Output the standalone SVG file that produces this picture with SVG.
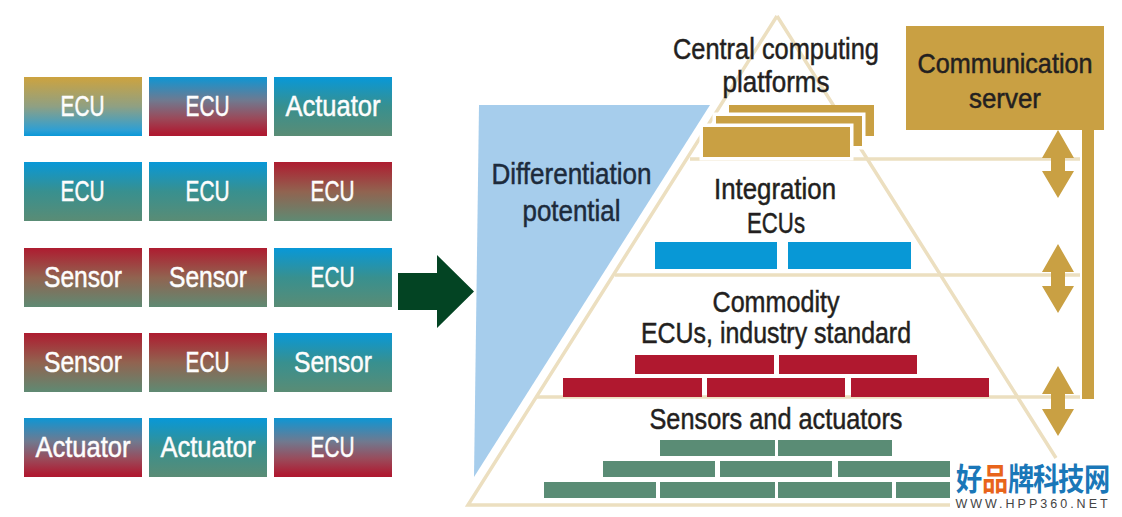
<svg xmlns="http://www.w3.org/2000/svg" width="1122" height="517" viewBox="0 0 1122 517">
<style>
text{font-family:"Liberation Sans",Arial,sans-serif;text-anchor:middle;font-size:30px;stroke-width:.5px}
.w{fill:#fdfdfd;stroke:#fdfdfd}.k{fill:#231f20;stroke:#231f20}.n{fill:#1d2b3c;stroke:#1d2b3c}.g{fill:#c9a043}.b{fill:#0898d6}.r{fill:#b0182f}.t{fill:#5a8c75}
.l{stroke:#ecdfc0;stroke-width:3.5;fill:none}
.h{stroke:#fff;stroke-width:7;paint-order:stroke}
.c{font-family:"Noto Sans CJK SC","Noto Sans CJK JP",sans-serif;font-size:25px;font-weight:700;fill:#1a77b8}
</style>
<defs>
<linearGradient id="gb" x1="0" y1="0" x2="0" y2="1"><stop offset="0" stop-color="#cda33f"/><stop offset=".5" stop-color="#8fa083"/><stop offset=".9" stop-color="#2f9fd3"/><stop offset="1" stop-color="#0a98d8"/></linearGradient>
<linearGradient id="br" x1="0" y1="0" x2="0" y2="1"><stop offset="0" stop-color="#0e96d4"/><stop offset=".4" stop-color="#70798f"/><stop offset=".7" stop-color="#9a4a5a"/><stop offset=".95" stop-color="#ae1c33"/><stop offset="1" stop-color="#ae1830"/></linearGradient>
<linearGradient id="bt" x1="0" y1="0" x2="0" y2="1"><stop offset="0" stop-color="#0898d8"/><stop offset=".5" stop-color="#38908f"/><stop offset="1" stop-color="#5a8c75"/></linearGradient>
<linearGradient id="rt" x1="0" y1="0" x2="0" y2="1"><stop offset="0" stop-color="#ae1c30"/><stop offset=".5" stop-color="#916350"/><stop offset="1" stop-color="#5f8a73"/></linearGradient>
</defs>
<rect width="1122" height="517" fill="#fff"/>
<g id="grid">
<g id="n11"><rect x="24" y="77" width="118" height="59" fill="url(#gb)"/><text class="w" x="82.500" y="116" textLength="44" lengthAdjust="spacingAndGlyphs">ECU</text></g>
<g id="n12"><rect x="149" y="77" width="118" height="59" fill="url(#br)"/><text class="w" x="207.500" y="116" textLength="44" lengthAdjust="spacingAndGlyphs">ECU</text></g>
<g id="n13"><rect x="274" y="77" width="118" height="59" fill="url(#bt)"/><text class="w" x="333" y="116" textLength="95" lengthAdjust="spacingAndGlyphs">Actuator</text></g>
<g id="n21"><rect x="24" y="162" width="118" height="59" fill="url(#bt)"/><text class="w" x="82.500" y="201" textLength="44" lengthAdjust="spacingAndGlyphs">ECU</text></g>
<g id="n22"><rect x="149" y="162" width="118" height="59" fill="url(#bt)"/><text class="w" x="207.500" y="201" textLength="44" lengthAdjust="spacingAndGlyphs">ECU</text></g>
<g id="n23"><rect x="274" y="162" width="118" height="59" fill="url(#rt)"/><text class="w" x="332.500" y="201" textLength="44" lengthAdjust="spacingAndGlyphs">ECU</text></g>
<g id="n31"><rect x="24" y="248" width="118" height="59" fill="url(#rt)"/><text class="w" x="83" y="287" textLength="78" lengthAdjust="spacingAndGlyphs">Sensor</text></g>
<g id="n32"><rect x="149" y="248" width="118" height="59" fill="url(#rt)"/><text class="w" x="208" y="287" textLength="78" lengthAdjust="spacingAndGlyphs">Sensor</text></g>
<g id="n33"><rect x="274" y="248" width="118" height="59" fill="url(#bt)"/><text class="w" x="332.500" y="287" textLength="44" lengthAdjust="spacingAndGlyphs">ECU</text></g>
<g id="n41"><rect x="24" y="333" width="118" height="59" fill="url(#rt)"/><text class="w" x="83" y="372" textLength="78" lengthAdjust="spacingAndGlyphs">Sensor</text></g>
<g id="n42"><rect x="149" y="333" width="118" height="59" fill="url(#rt)"/><text class="w" x="207.500" y="372" textLength="44" lengthAdjust="spacingAndGlyphs">ECU</text></g>
<g id="n43"><rect x="274" y="333" width="118" height="59" fill="url(#bt)"/><text class="w" x="333" y="372" textLength="78" lengthAdjust="spacingAndGlyphs">Sensor</text></g>
<g id="n51"><rect x="24" y="418" width="118" height="59" fill="url(#br)"/><text class="w" x="83" y="457" textLength="95" lengthAdjust="spacingAndGlyphs">Actuator</text></g>
<g id="n52"><rect x="149" y="418" width="118" height="59" fill="url(#bt)"/><text class="w" x="208" y="457" textLength="95" lengthAdjust="spacingAndGlyphs">Actuator</text></g>
<g id="n53"><rect x="274" y="418" width="118" height="59" fill="url(#br)"/><text class="w" x="332.500" y="457" textLength="44" lengthAdjust="spacingAndGlyphs">ECU</text></g>
</g>
<g id="pyramid">
<path class="l" d="M777 16L468 505H950M777 16L1056 458"/>
<path class="l" d="M690 159H1080M615 275H1080M537 397H1080"/>
</g>
<g id="differentiation"><path d="M479 105H710L474 477Z" fill="#a6cdec"/>
<text class="n" x="571.500" y="184" textLength="160" lengthAdjust="spacingAndGlyphs">Differentiation</text><text class="n" x="571.500" y="221" textLength="98" lengthAdjust="spacingAndGlyphs">potential</text></g>
<g id="central">
<text class="k" x="776" y="59" textLength="206" lengthAdjust="spacingAndGlyphs">Central computing</text><text class="k" x="776" y="92" textLength="107" lengthAdjust="spacingAndGlyphs">platforms</text>
<rect class="g" x="729" y="105" width="145" height="31"/>
<rect class="g h" x="716" y="116" width="146" height="30"/>
<rect class="g h" x="703" y="127" width="147" height="30"/>
</g>
<g id="integration">
<text class="k" x="775" y="199" textLength="122" lengthAdjust="spacingAndGlyphs">Integration</text><text class="k" x="776" y="233" textLength="58" lengthAdjust="spacingAndGlyphs">ECUs</text>
<rect class="b" x="655" y="242" width="122" height="27"/><rect class="b" x="788" y="242" width="123" height="27"/>
</g>
<g id="commodity">
<text class="k" x="776" y="312" textLength="127" lengthAdjust="spacingAndGlyphs">Commodity</text><text class="k" x="776" y="343" textLength="270" lengthAdjust="spacingAndGlyphs">ECUs, industry standard</text>
<rect class="r" x="635" y="355" width="139" height="19"/><rect class="r" x="779" y="355" width="138" height="19"/>
<rect class="r" x="563" y="378" width="139" height="19"/><rect class="r" x="707" y="378" width="138" height="19"/><rect class="r" x="851" y="378" width="138" height="19"/>
</g>
<g id="sensors">
<text class="k" x="776" y="429" textLength="253" lengthAdjust="spacingAndGlyphs">Sensors and actuators</text>
<rect class="t" x="660" y="440" width="115" height="16"/><rect class="t" x="778" y="440" width="114" height="16"/>
<rect class="t" x="603" y="461" width="112" height="16"/><rect class="t" x="720" y="461" width="112" height="16"/><rect class="t" x="838" y="461" width="112" height="16"/>
<rect class="t" x="544" y="482" width="112" height="16"/><rect class="t" x="660" y="482" width="115" height="16"/><rect class="t" x="778" y="482" width="114" height="16"/><rect class="t" x="896" y="482" width="54" height="16"/>
</g>
<g id="server"><rect class="g" x="906" y="26" width="198" height="104"/>
<text class="k" x="1005" y="73" style="font-size:28px" textLength="175" lengthAdjust="spacingAndGlyphs">Communication</text><text class="k" x="1005" y="108" style="font-size:28px" textLength="72" lengthAdjust="spacingAndGlyphs">server</text></g>
<g id="connectors">
<path d="M398 273H437V255L474 291.500L437 328V310H398Z" fill="#034423"/>
<rect class="g" x="1082" y="130" width="12" height="269"/>
<path id="d1" class="g" d="M1058 130L1074 158H1065V171H1074L1058 198L1042 171H1051V158H1042Z"/>
<path id="d2" class="g" d="M1058 244L1074 272H1065V286H1074L1058 313L1042 286H1051V272H1042Z"/>
<path id="d3" class="g" d="M1058 366L1074 394H1065V409H1074L1058 436L1042 409H1051V394H1042Z"/>
</g>
<g id="watermark">
<rect x="950" y="462" width="172" height="55" fill="#fff"/>
<text class="c" transform="translate(969 490) scale(1.05 1.25)">好</text>
<text class="c" style="fill:#e8641b" transform="translate(995 490) scale(1.05 1.25)">品</text>
<text class="c" transform="translate(1021 490) scale(1.05 1.25)">牌</text>
<text class="c" transform="translate(1046 490) scale(1.05 1.25)">科</text>
<text class="c" transform="translate(1071 490) scale(1.05 1.25)">技</text>
<text class="c" transform="translate(1097 490) scale(1.05 1.25)">网</text>
<text x="1033" y="508" style="font-size:12.500px;letter-spacing:3px;stroke:none" fill="#444">WWW.HPP360.NET</text>
</g>
</svg>
